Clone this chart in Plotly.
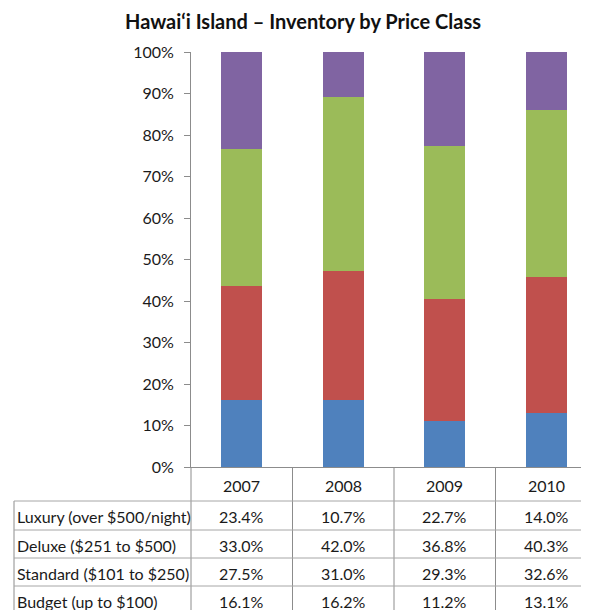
import plotly.graph_objects as go

years = ["2007", "2008", "2009", "2010"]
classes = ["Budget (up to $100)", "Standard ($101 to $250)", "Deluxe ($251 to $500)", "Luxury (over $500/night)"]
budget = [16.1, 16.2, 11.2, 13.1]
standard = [27.5, 31.0, 29.3, 32.6]
deluxe = [33.0, 42.0, 36.8, 40.3]
luxury = [23.4, 10.7, 22.7, 14.0]
colors = ["#4F81BD", "#C0504D", "#9BBB59", "#8064A2"]

# page body adds an 8px margin, so work in shifted pixel coords
OFF = 8
W, H = 589 - OFF, 610 - OFF
L, T, B = 191 - OFF, 52 - OFF, 467 - OFF   # plot area in pixels


def py(p):
    # reference pixel row -> paper y
    return (B - (p - OFF)) / (B - T)


def px(p):
    return ((p - OFF) - L) / (W - L)


fig = go.Figure()
series = [budget, standard, deluxe, luxury]
for name, vals, c in zip(classes, series, colors):
    fig.add_trace(go.Bar(x=list(range(len(years))), y=[v / 100 for v in vals], name=name,
                         marker=dict(color=c, line=dict(width=0)), width=0.4))

shapes = []
annotations = []
grid = "#8c8c8c"
txt = dict(size=16, color="#1a1a1a")
# header row: years
for i, yr in enumerate(years):
    annotations.append(dict(x=i, y=py(485), xref="x", yref="paper", text=yr, showarrow=False,
                            xanchor="center", yanchor="middle", font=txt))
# column dividers
for i in range(len(years)):
    shapes.append(dict(type="line", xref="x", yref="paper", x0=i + 0.5, x1=i + 0.5,
                       y0=py(467), y1=py(625), line=dict(color=grid, width=1)))
shapes.append(dict(type="line", xref="paper", yref="paper", x0=0, x1=0,
                   y0=py(467), y1=py(625), line=dict(color=grid, width=1)))
shapes.append(dict(type="line", xref="paper", yref="paper", x0=px(14), x1=px(14),
                   y0=py(501), y1=py(625), line=dict(color=grid, width=1)))
# row lines
for p in [501, 530, 558, 586]:
    shapes.append(dict(type="line", xref="paper", yref="paper", x0=px(14), x1=1,
                       y0=py(p), y1=py(p), line=dict(color="#a6a6a6", width=1)))

# data rows, top = Luxury
rows = list(zip(classes, series))[::-1]
row_y = [516, 545, 573, 601]
for (name, vals), ry in zip(rows, row_y):
    annotations.append(dict(x=px(15), y=py(ry), xref="paper", yref="paper", text=name,
                            showarrow=False, xanchor="left", yanchor="middle", font=txt))
    for i, v in enumerate(vals):
        annotations.append(dict(x=i, y=py(ry), xref="x", yref="paper", text=f"{v:.1f}%",
                                showarrow=False, xanchor="center", yanchor="middle", font=txt))

fig.update_layout(
    barmode="stack",
    width=W, height=H,
    margin=dict(l=L, r=0, t=T, b=H - B),
    paper_bgcolor="white", plot_bgcolor="white",
    showlegend=False,
    font=dict(family="Lato, sans-serif", color="#1a1a1a"),
    title=dict(text="<b>Hawai‘i Island – Inventory by Price Class</b>", x=(303 - OFF) / W, xanchor="center",
               y=1 - (22 - OFF) / H, yanchor="middle", font=dict(size=20, color="#111")),
    xaxis=dict(range=[-0.5, -0.5 + (W - L) / 101.5], showticklabels=False, showgrid=False,
               zeroline=False, showline=True, linecolor=grid, linewidth=1, ticks=""),
    yaxis=dict(range=[0, 1], tickformat=".0%", dtick=0.1, showgrid=False, zeroline=False,
               showline=True, linecolor=grid, linewidth=1, ticks="outside", ticklen=6,
               tickcolor=grid, tickfont=dict(size=16, color="#1a1a1a"), ticklabelstandoff=7),
    shapes=shapes,
    annotations=annotations,
)

fig.write_html("out.html")
